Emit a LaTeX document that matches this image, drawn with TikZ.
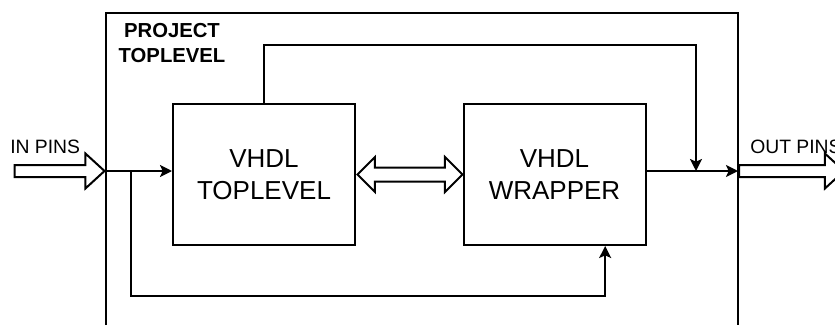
\documentclass[tikz,border=0pt]{standalone}
\usepackage{fontspec}
\setmainfont{Liberation Sans}
\usetikzlibrary{arrows.meta,shapes.arrows,positioning}
\tikzset{
  frame/.style={line width=1.5pt},
  block/.style={draw,line width=1.5pt,minimum width=136.5pt,minimum height=105.75pt,
    align=center,font=\fontsize{19.5}{24}\selectfont},
  wire/.style={line width=1.5pt,-{Stealth[length=9pt,width=9pt,inset=2pt]}},
  pinarrow/.style={single arrow,draw,line width=1.5pt,inner xsep=0pt,inner ysep=3.75pt,
    minimum width=0pt,single arrow head extend=8.6pt,single arrow tip angle=85},
  busarrow/.style={double arrow,draw,line width=1.5pt,inner xsep=0pt,inner ysep=4.5pt,
    minimum width=0pt,double arrow head extend=7.9pt,double arrow tip angle=90},
  pinlabel/.style={font=\fontsize{14.5}{17}\selectfont,inner sep=0pt}
}

\begin{document}
\begin{tikzpicture}[x=0.75pt,y=-0.75pt]
    \clip (0,0) rectangle (835,325);
    % project frame, open at the bottom
    \draw[frame] (106,325) -- (106,13) -- (738,13) -- (738,325);
    \node[anchor=north,align=center,inner sep=0pt,
      font=\fontsize{15.2}{18.75}\selectfont\bfseries] (title) at (172,23) {PROJECT\\TOPLEVEL};
    \node[block] (tl) at (264,174.5) {VHDL\\TOPLEVEL};
    \node[block] (wr) at (554.5,174.5) {VHDL\\WRAPPER};
    \node[busarrow,minimum height=78.75pt,right=0pt of tl] (bus) {};
    \coordinate (inpin) at (106,171);
    \coordinate (outpin) at (738,171);
    \coordinate (split) at (131,171);
    \coordinate (merge) at (696,171);
    \node[pinarrow,minimum height=67.5pt,left=0pt of inpin] (inarrow) {};
    \node[pinarrow,minimum height=78.75pt,right=0pt of outpin] (outarrow) {};
    \node[pinlabel,anchor=base west] (inlabel) at (10,153) {IN PINS};
    \node[pinlabel,anchor=base west] (outlabel) at (750,153) {OUT PINS};
    \draw[wire] (inpin) -- (inpin -| tl.west);
    \draw[wire] (wr.east |- outpin) -- (outpin);
    \draw[wire] (tl.north) -- ++(0,-58) -| (merge);
    \draw[wire] (split) -- ++(0,125) -| ([xshift=38pt]wr.south);
\end{tikzpicture}
\end{document}
